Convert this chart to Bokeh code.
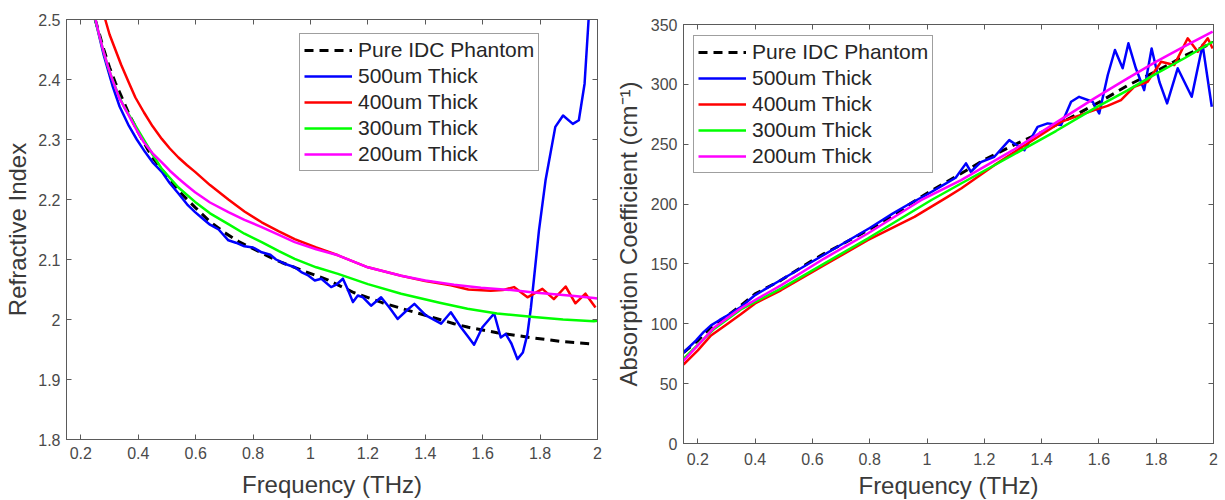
from bokeh.plotting import figure
from bokeh.layouts import row
from bokeh.models import LinearAxis, FixedTicker
from bokeh.embed import file_html
from bokeh.resources import INLINE

# ---------------- data: refractive index (left panel) ----------------
f_pure_n = [0.25, 0.265, 0.28, 0.30, 0.32, 0.34, 0.37, 0.40, 0.43, 0.45, 0.48, 0.52, 0.55,
            0.60, 0.65, 0.70, 0.75, 0.80, 0.85, 0.90, 0.97, 1.06, 1.15, 1.25, 1.32, 1.40,
            1.50, 1.55, 1.65, 1.78, 1.88, 1.99]
n_pure = [2.50, 2.475, 2.45, 2.42, 2.395, 2.373, 2.34, 2.312, 2.286, 2.27, 2.251, 2.228, 2.21,
          2.186, 2.163, 2.145, 2.13, 2.118, 2.106, 2.095, 2.082, 2.066, 2.045, 2.028, 2.018,
          2.007, 1.993, 1.987, 1.978, 1.969, 1.963, 1.959]

f_500_n = [0.25, 0.265, 0.28, 0.295, 0.31, 0.335, 0.367, 0.395, 0.424, 0.45, 0.482, 0.51,
           0.54, 0.57, 0.598, 0.62, 0.65, 0.68, 0.714, 0.74, 0.77, 0.80, 0.83, 0.86, 0.88,
           0.91, 0.945, 0.968, 0.99, 1.015, 1.038, 1.072, 1.09, 1.113, 1.13, 1.148, 1.165,
           1.183, 1.211, 1.246, 1.275, 1.304, 1.335, 1.362, 1.402, 1.455, 1.489, 1.524, 1.548,
           1.570, 1.599, 1.640, 1.663, 1.680, 1.70, 1.721, 1.74, 1.756, 1.768, 1.778, 1.796,
           1.819, 1.853, 1.88, 1.914, 1.935, 1.955, 1.969, 1.98]
n_500 = [2.50, 2.47, 2.44, 2.415, 2.39, 2.355, 2.323, 2.30, 2.279, 2.262, 2.246, 2.227,
         2.21, 2.192, 2.179, 2.17, 2.158, 2.15, 2.132, 2.128, 2.122, 2.12, 2.112, 2.108, 2.10,
         2.093, 2.087, 2.079, 2.074, 2.065, 2.068, 2.054, 2.058, 2.068, 2.05, 2.029, 2.04,
         2.037, 2.023, 2.037, 2.02, 2.001, 2.015, 2.026, 2.007, 1.993, 2.012, 1.987, 1.972,
         1.958, 1.987, 2.01, 1.970, 1.976, 1.96, 1.934, 1.945, 1.976, 2.02, 2.065, 2.148,
         2.232, 2.321, 2.34, 2.326, 2.332, 2.393, 2.5, 2.6]

f_400_n = [0.285, 0.30, 0.32, 0.34, 0.367, 0.39, 0.42, 0.45, 0.482, 0.51, 0.54, 0.57, 0.598,
           0.65, 0.714, 0.77, 0.83, 0.89, 0.945, 1.02, 1.096, 1.2, 1.316, 1.4, 1.489, 1.55,
           1.628, 1.67, 1.709, 1.756, 1.808, 1.848, 1.889, 1.923, 1.958, 1.993]
n_400 = [2.50, 2.475, 2.45, 2.425, 2.395, 2.37, 2.345, 2.322, 2.301, 2.285, 2.27, 2.257, 2.246,
         2.224, 2.20, 2.18, 2.162, 2.147, 2.134, 2.12, 2.107, 2.087, 2.073, 2.064, 2.057, 2.05,
         2.048, 2.049, 2.054, 2.037, 2.051, 2.034, 2.055, 2.027, 2.043, 2.02]

f_300_n = [0.25, 0.265, 0.28, 0.295, 0.31, 0.33, 0.35, 0.375, 0.40, 0.45, 0.482, 0.54, 0.598,
           0.65, 0.714, 0.77, 0.83, 0.89, 0.945, 1.02, 1.096, 1.2, 1.316, 1.45, 1.547, 1.65,
           1.778, 1.88, 1.987, 2.0]
n_300 = [2.50, 2.472, 2.445, 2.42, 2.40, 2.375, 2.355, 2.335, 2.315, 2.275, 2.251, 2.22, 2.196,
         2.177, 2.159, 2.143, 2.129, 2.114, 2.101, 2.087, 2.076, 2.059, 2.043, 2.028, 2.018,
         2.01, 2.004, 2.0, 1.997, 1.998]

f_200_n = [0.251, 0.265, 0.28, 0.295, 0.309, 0.335, 0.367, 0.395, 0.42, 0.45, 0.482, 0.51,
           0.54, 0.57, 0.598, 0.65, 0.714, 0.77, 0.83, 0.89, 0.945, 1.02, 1.096, 1.2, 1.316,
           1.4, 1.5, 1.594, 1.7, 1.778, 1.85, 1.92, 1.987, 2.0]
n_200 = [2.50, 2.472, 2.445, 2.421, 2.401, 2.368, 2.34, 2.315, 2.295, 2.277, 2.262, 2.248,
         2.235, 2.223, 2.212, 2.195, 2.179, 2.166, 2.154, 2.141, 2.129, 2.117, 2.107, 2.087,
         2.073, 2.065, 2.058, 2.053, 2.049, 2.045, 2.042, 2.039, 2.036, 2.035]

# ---------------- data: absorption coefficient (right panel) ----------------
f_pure_a = [0.15, 0.2, 0.246, 0.30, 0.351, 0.40, 0.49, 0.60, 0.641, 0.70, 0.793, 0.90, 0.933,
            1.0, 1.119, 1.2, 1.3, 1.4, 1.5, 1.6, 1.7, 1.8, 1.863, 1.9, 2.0]
a_pure = [76, 86, 97.3, 106, 115.4, 125, 136.3, 153, 158.6, 166, 178.1, 193, 199,
          209, 225.5, 237, 249, 260, 272, 285, 299, 311, 319, 324, 335]

f_500_a = [0.15, 0.194, 0.22, 0.246, 0.275, 0.304, 0.35, 0.40, 0.50, 0.60, 0.70, 0.80, 0.88,
           0.93, 1.00, 1.05, 1.10, 1.136, 1.153, 1.188, 1.235, 1.287, 1.34, 1.386, 1.421,
           1.468, 1.503, 1.531, 1.578, 1.601, 1.631, 1.656, 1.683, 1.703, 1.729, 1.758, 1.784,
           1.811, 1.838, 1.875, 1.924, 1.962, 1.994]
a_500 = [76, 86.1, 93, 98.7, 103, 107, 114, 124, 138, 152, 166, 180, 192,
         199, 208, 215, 222, 234, 227, 235, 239.5, 253.4, 245, 264.5, 267.4,
         266, 285.5, 289.6, 285.5, 275.7, 307.8, 328.7, 313.4, 334.3, 313.4, 295.2, 330,
         302.2, 284.1, 313.4, 289.6, 333, 281.3]

f_400_a = [0.15, 0.2, 0.246, 0.304, 0.35, 0.40, 0.49, 0.641, 0.793, 0.956, 1.072, 1.119, 1.235,
           1.351, 1.468, 1.584, 1.63, 1.677, 1.723, 1.77, 1.817, 1.863, 1.91, 1.945, 1.98, 1.997]
a_400 = [66, 77.8, 90.3, 100.1, 108, 117, 128, 148.9, 169.8, 189.3, 206, 213, 232.5,
         250.6, 268.7, 278.5, 282, 286.9, 298, 302.2, 318.9, 316.1, 338.5, 327.3, 338.5, 330]

f_300_a = [0.15, 0.258, 0.35, 0.49, 0.641, 0.793, 1.014, 1.119, 1.3, 1.45, 1.584, 1.7, 1.8,
           1.9, 1.997]
a_300 = [70.7, 95.9, 112, 129.4, 150.3, 171.2, 203.2, 217.2, 241, 261, 280, 295, 309,
         322, 335.6]

f_200_a = [0.15, 0.258, 0.35, 0.49, 0.641, 0.793, 0.979, 1.119, 1.3, 1.45, 1.584, 1.7, 1.8,
           1.9, 1.997]
a_200 = [69, 97, 113, 132.1, 154.5, 175.4, 203.2, 220, 245, 268, 288.3, 305, 319, 332, 344]

# ---------------- ticks / labels ----------------
x_ticks = [0.2, 0.4, 0.6, 0.8, 1, 1.2, 1.4, 1.6, 1.8, 2]
x_tick_labels = ["0.2", "0.4", "0.6", "0.8", "1", "1.2", "1.4", "1.6", "1.8", "2"]
n_ticks = [1.8, 1.9, 2, 2.1, 2.2, 2.3, 2.4, 2.5]
n_tick_labels = ["1.8", "1.9", "2", "2.1", "2.2", "2.3", "2.4", "2.5"]
a_ticks = [0, 50, 100, 150, 200, 250, 300, 350]
a_tick_labels = ["0", "50", "100", "150", "200", "250", "300", "350"]

series_names = ["Pure IDC Phantom", "500um Thick", "400um Thick", "300um Thick", "200um Thick"]
series_colors = ["#000000", "#0000ff", "#ff0000", "#00ff00", "#ff00ff"]

FONT = "Liberation Sans"
AX = "#5a5a5a"
TICK_TXT = "#4a4a4a"
LBL_TXT = "#3a3a3a"


def style_axis(ax, ticks, labels):
    ax.ticker = FixedTicker(ticks=ticks)
    ax.major_label_overrides = {t: l for t, l in zip(ticks, labels)}
    ax.axis_line_color = AX
    ax.axis_line_width = 1
    ax.major_tick_line_color = AX
    ax.major_tick_in = 5
    ax.major_tick_out = 0
    ax.minor_tick_line_color = None
    ax.major_label_text_font = FONT
    ax.major_label_text_font_size = "16px"
    ax.major_label_text_color = TICK_TXT
    ax.axis_label_text_font = FONT
    ax.axis_label_text_font_style = "normal"
    ax.axis_label_text_font_size = "24px"
    ax.axis_label_text_color = LBL_TXT


def add_frame_axes(p, xt, yt):
    top = LinearAxis(ticker=FixedTicker(ticks=xt))
    right = LinearAxis(ticker=FixedTicker(ticks=yt))
    for ax, ticks in ((top, xt), (right, yt)):
        ax.axis_line_color = AX
        ax.major_tick_line_color = AX
        ax.major_tick_in = 5
        ax.major_tick_out = 0
        ax.minor_tick_line_color = None
        ax.major_label_overrides = {t: "" for t in ticks}
        ax.major_label_text_color = None
        ax.major_label_text_font_size = "1px"
        ax.major_label_standoff = 0
        ax.axis_label_standoff = 0
    p.add_layout(top, "above")
    p.add_layout(right, "right")


def make_fig(frame_w, frame_h, x_range, y_range, borders):
    p = figure(frame_width=frame_w, frame_height=frame_h, x_range=x_range, y_range=y_range,
               output_backend="svg", toolbar_location=None,
               min_border_left=borders[0], min_border_right=borders[1],
               min_border_top=borders[2], min_border_bottom=borders[3])
    p.frame_align = False
    p.xgrid.visible = False
    p.ygrid.visible = False
    p.outline_line_color = AX
    p.background_fill_color = "white"
    p.border_fill_color = "white"
    return p


def draw_series(p, xs_list, ys_list):
    for name, col, xs, ys in zip(series_names, series_colors, xs_list, ys_list):
        if name.startswith("Pure"):
            p.line(xs, ys, line_color=col, line_width=3, line_dash="9 6", legend_label=name)
        else:
            p.line(xs, ys, line_color=col, line_width=2.5, legend_label=name,
                   line_join="round")


def style_legend(p, loc):
    lg = p.legend[0]
    lg.location = loc
    lg.border_line_color = "#404040"
    lg.border_line_width = 1
    lg.background_fill_color = "white"
    lg.background_fill_alpha = 1
    lg.label_text_font = FONT
    lg.label_text_font_size = "21px"
    lg.label_text_color = "#262626"
    lg.glyph_width = 48
    lg.glyph_height = 20
    lg.label_height = 20
    lg.spacing = 2
    lg.padding = 4
    lg.margin = 0
    lg.label_standoff = 6


# ---------------- left panel ----------------
p1 = make_fig(531, 420, (0.15, 2.0), (1.8, 2.5), (66, 13, 19, 20))
draw_series(p1, [f_pure_n, f_500_n, f_400_n, f_300_n, f_200_n],
            [n_pure, n_500, n_400, n_300, n_200])
style_axis(p1.xaxis[0], x_ticks, x_tick_labels)
style_axis(p1.yaxis[0], n_ticks, n_tick_labels)
p1.xaxis[0].axis_label = "Frequency (THz)"
p1.yaxis[0].axis_label = "Refractive Index"
p1.xaxis[0].major_label_standoff = 7
p1.xaxis[0].axis_label_standoff = 9
p1.yaxis[0].major_label_standoff = 6
p1.yaxis[0].axis_label_standoff = 4
add_frame_axes(p1, x_ticks, n_ticks)
style_legend(p1, (233, 268))

# ---------------- right panel ----------------
p2 = make_fig(530, 419, (0.15, 2.0), (0, 350), (73, 12, 24, 20))
draw_series(p2, [f_pure_a, f_500_a, f_400_a, f_300_a, f_200_a],
            [a_pure, a_500, a_400, a_300, a_200])
style_axis(p2.xaxis[0], x_ticks, x_tick_labels)
style_axis(p2.yaxis[0], a_ticks, a_tick_labels)
p2.xaxis[0].axis_label = "Frequency (THz)"
p2.yaxis[0].axis_label = "Absorption Coefficient (cm\u207b\u00b9)"
p2.xaxis[0].major_label_standoff = 9
p2.xaxis[0].axis_label_standoff = 4
p2.yaxis[0].major_label_standoff = 6
p2.yaxis[0].axis_label_standoff = 6
add_frame_axes(p2, x_ticks, a_ticks)
style_legend(p2, (10, 270))

layout = row(p1, p2)
open("out.html", "w").write(file_html(layout, INLINE))
